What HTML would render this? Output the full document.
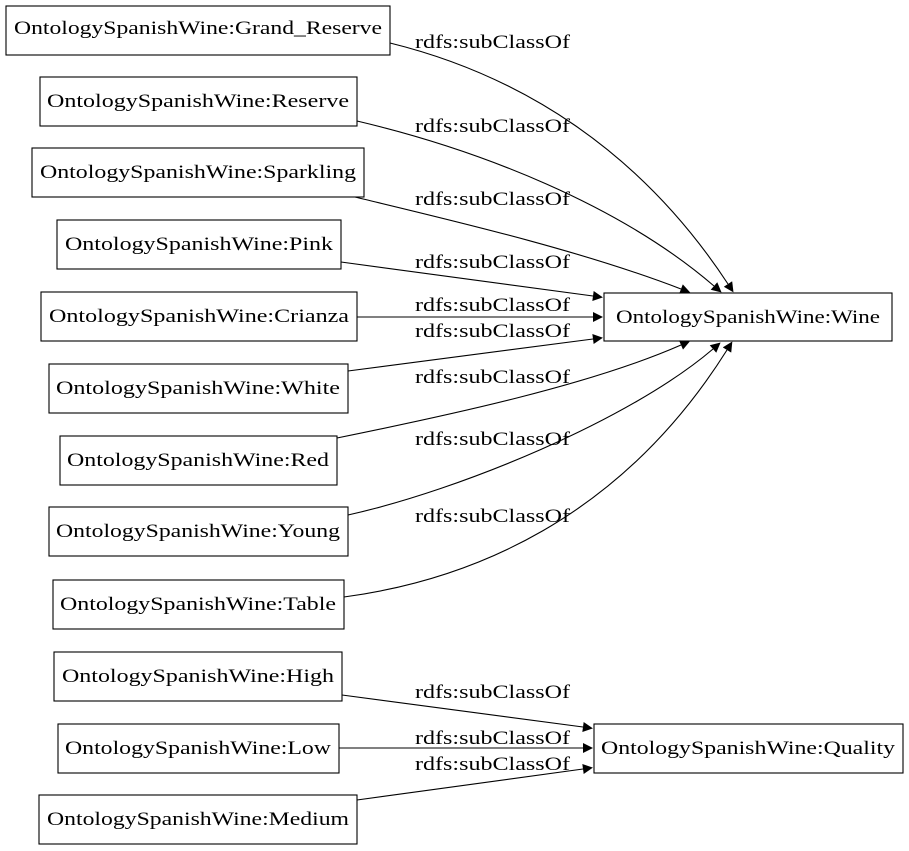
<!DOCTYPE html>
<html><head><meta charset="utf-8"><style>
html,body{margin:0;padding:0;background:#fff;}
svg{display:block;}
text{font-family:"Liberation Serif",serif;font-size:19px;fill:#000;}
</style></head><body>
<svg width="909" height="851" viewBox="0 0 909 851" xmlns="http://www.w3.org/2000/svg">
<defs><marker id="a" viewBox="0 0 10 10" refX="0" refY="5" markerWidth="11" markerHeight="10" markerUnits="userSpaceOnUse" orient="auto"><path d="M0,0 L10,5 L0,10 z" fill="#000"/></marker></defs>
<g fill="none" stroke="#000" stroke-width="1.1">
<rect x="6" y="6" width="384" height="49"/>
<rect x="40" y="77" width="317" height="49"/>
<rect x="32" y="148" width="332" height="49"/>
<rect x="57" y="220" width="284" height="49"/>
<rect x="41" y="292" width="316" height="49"/>
<rect x="49" y="364" width="299" height="49"/>
<rect x="60" y="436" width="277" height="49"/>
<rect x="49" y="507" width="299" height="49"/>
<rect x="53" y="580" width="291" height="49"/>
<rect x="54" y="652" width="288" height="49"/>
<rect x="58" y="724" width="281" height="49"/>
<rect x="39" y="795" width="318" height="49"/>
<rect x="604" y="293" width="288" height="48"/>
<rect x="594" y="724" width="309" height="49"/>
<g marker-end="url(#a)">
<path d="M390,43 C520,75 640,150 728,284"/>
<path d="M357,121 C480,150 620,205 714,286"/>
<path d="M355,197 C450,220 580,250 681,289"/>
<path d="M341,262 L593,296"/>
<path d="M357,317 L593,317"/>
<path d="M348,371 L593,339"/>
<path d="M337,438 C450,415 590,385 681,345"/>
<path d="M348,515 C460,490 630,420 713,349"/>
<path d="M344,597 C470,580 620,520 727,350"/>
<path d="M342,695 L583,727"/>
<path d="M339,748 L583,748"/>
<path d="M357,800 L583,769"/>
</g></g>
<g text-anchor="middle" lengthAdjust="spacingAndGlyphs">
<text x="198" y="34" textLength="368" lengthAdjust="spacingAndGlyphs">OntologySpanishWine:Grand_Reserve</text>
<text x="198" y="107" textLength="302" lengthAdjust="spacingAndGlyphs">OntologySpanishWine:Reserve</text>
<text x="198" y="178" textLength="316" lengthAdjust="spacingAndGlyphs">OntologySpanishWine:Sparkling</text>
<text x="199" y="250" textLength="268" lengthAdjust="spacingAndGlyphs">OntologySpanishWine:Pink</text>
<text x="199" y="322" textLength="300" lengthAdjust="spacingAndGlyphs">OntologySpanishWine:Crianza</text>
<text x="198" y="394" textLength="284" lengthAdjust="spacingAndGlyphs">OntologySpanishWine:White</text>
<text x="198" y="466" textLength="262" lengthAdjust="spacingAndGlyphs">OntologySpanishWine:Red</text>
<text x="198" y="537" textLength="284" lengthAdjust="spacingAndGlyphs">OntologySpanishWine:Young</text>
<text x="198" y="610" textLength="276" lengthAdjust="spacingAndGlyphs">OntologySpanishWine:Table</text>
<text x="198" y="682" textLength="272" lengthAdjust="spacingAndGlyphs">OntologySpanishWine:High</text>
<text x="198" y="754" textLength="266" lengthAdjust="spacingAndGlyphs">OntologySpanishWine:Low</text>
<text x="198" y="825" textLength="302" lengthAdjust="spacingAndGlyphs">OntologySpanishWine:Medium</text>
<text x="748" y="323" textLength="264" lengthAdjust="spacingAndGlyphs">OntologySpanishWine:Wine</text>
<text x="748" y="754" textLength="294" lengthAdjust="spacingAndGlyphs">OntologySpanishWine:Quality</text>
</g>
<g>
<text x="415" y="48" textLength="155" lengthAdjust="spacingAndGlyphs">rdfs:subClassOf</text>
<text x="415" y="132" textLength="155" lengthAdjust="spacingAndGlyphs">rdfs:subClassOf</text>
<text x="415" y="205" textLength="155" lengthAdjust="spacingAndGlyphs">rdfs:subClassOf</text>
<text x="415" y="268" textLength="155" lengthAdjust="spacingAndGlyphs">rdfs:subClassOf</text>
<text x="415" y="311" textLength="155" lengthAdjust="spacingAndGlyphs">rdfs:subClassOf</text>
<text x="415" y="337" textLength="155" lengthAdjust="spacingAndGlyphs">rdfs:subClassOf</text>
<text x="415" y="383" textLength="155" lengthAdjust="spacingAndGlyphs">rdfs:subClassOf</text>
<text x="415" y="445" textLength="155" lengthAdjust="spacingAndGlyphs">rdfs:subClassOf</text>
<text x="415" y="522" textLength="155" lengthAdjust="spacingAndGlyphs">rdfs:subClassOf</text>
<text x="415" y="698" textLength="155" lengthAdjust="spacingAndGlyphs">rdfs:subClassOf</text>
<text x="415" y="744" textLength="155" lengthAdjust="spacingAndGlyphs">rdfs:subClassOf</text>
<text x="415" y="770" textLength="155" lengthAdjust="spacingAndGlyphs">rdfs:subClassOf</text>
</g>
</svg>
</body></html>
